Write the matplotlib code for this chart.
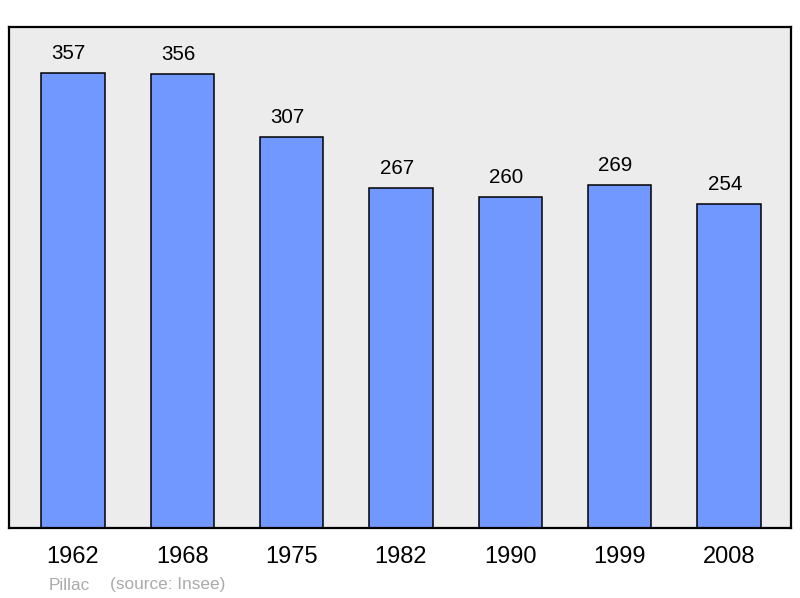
import matplotlib.pyplot as plt

years = ['1962', '1968', '1975', '1982', '1990', '1999', '2008']
population = [357, 356, 307, 267, 260, 269, 254]
commune = 'Pillac'
source = '(source: Insee)'

plt.rcParams['font.family'] = ['Liberation Sans', 'DejaVu Sans']

fig = plt.figure(figsize=(8, 5.98), dpi=100)
ax = fig.add_axes([9 / 800, 70 / 598, 782 / 800, 501 / 598])
ax.set_facecolor('#ececec')

pos = list(range(len(years)))
bars = ax.bar(pos, population, width=0.58, color='#7098ff', edgecolor='black', linewidth=1.1, zorder=2)

for x, v in zip(pos, population):
    ax.annotate(str(v), (x, v), xytext=(-3, 7), textcoords='offset points',
                ha='center', va='bottom', fontsize=14.8)

ax.set_xlim(-0.585, 6.567)
ax.set_ylim(0, 393)
ax.set_xticks(pos)
ax.set_xticklabels(years, fontsize=17)
ax.tick_params(axis='x', length=0, pad=13)
ax.set_yticks([])
for s in ax.spines.values():
    s.set_linewidth(1.6)

fig.text(49 / 800, 1 - 585 / 598, commune, color='#aaaaaa', fontsize=12.4, va='center')
fig.text(110 / 800, 1 - 585 / 598, source, color='#aaaaaa', fontsize=12.4, va='center')

fig.savefig('out.png', dpi=100)
